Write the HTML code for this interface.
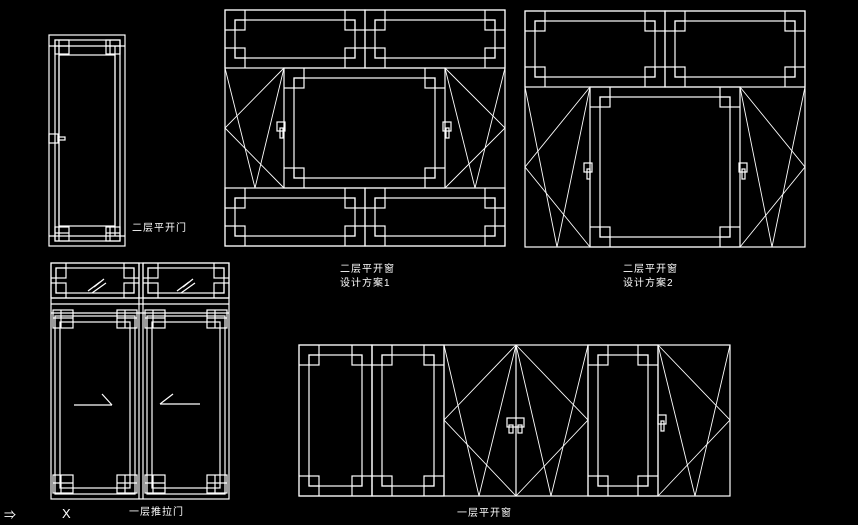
<!DOCTYPE html>
<html><head><meta charset="utf-8"><style>
html,body{margin:0;padding:0;background:#000;width:858px;height:525px;overflow:hidden}
svg{position:absolute;left:0;top:0}
.t{position:absolute;color:#fff;font:10px "Liberation Sans","Noto Sans CJK SC",sans-serif;line-height:14px;white-space:nowrap;letter-spacing:1px}
</style></head><body>
<svg id="s" width="858" height="525" viewBox="0 0 858 525" fill="none" stroke="#fff" stroke-width="1.2"></svg>
<div class="t" style="left:132px;top:222px">二层平开门</div>
<div class="t" style="left:340px;top:263px">二层平开窗</div>
<div class="t" style="left:340px;top:277px">设计方案1</div>
<div class="t" style="left:623px;top:263px">二层平开窗</div>
<div class="t" style="left:623px;top:277px">设计方案2</div>
<div class="t" style="left:129px;top:506px">一层推拉门</div>
<div class="t" style="left:457px;top:507px">一层平开窗</div>
<div class="t" style="left:4px;top:508px;font-size:12px">⇒</div>
<div class="t" style="left:62px;top:507px;font-size:13px">X</div>
<script>
var s=document.getElementById('s'),h='';
function L(a,b,c,d){h+='<line x1="'+a+'" y1="'+b+'" x2="'+c+'" y2="'+d+'"/>';}
function R(a,b,c,d){h+='<rect x="'+a+'" y="'+b+'" width="'+(c-a)+'" height="'+(d-b)+'"/>';}
function P(pts){h+='<polyline points="'+pts+'" stroke-width="0.9"/>';}
function panel(x1,y1,x2,y2,i,q){
 R(x1,y1,x2,y2);var a=x1+i,b=y1+i,c=x2-i,d=y2-i;R(a,b,c,d);
 R(a,b,a+q,b+q);R(c-q,b,c,b+q);R(a,d-q,a+q,d);R(c-q,d-q,c,d);
 L(a+q,y1,a+q,b);L(x1,b+q,a,b+q);L(c-q,y1,c-q,b);L(c,b+q,x2,b+q);
 L(a+q,d,a+q,y2);L(x1,d-q,a,d-q);L(c-q,d,c-q,y2);L(c,d-q,x2,d-q);
}
function handle(x,y){R(x,y,x+8,y+9);R(x+3,y+6,x+6,y+16);}
/* Plan 1 */
R(225,10,505,246);
panel(225,10,365,68,10,10);panel(365,10,505,68,10,10);
panel(225,188,365,246,10,10);panel(365,188,505,246,10,10);
panel(284,68,445,188,10,10);
P('225,68 255,188 284,68');P('284,68 225,128 284,188');
P('445,68 475,188 505,68');P('445,68 505,128 445,188');
handle(277,122);handle(443,122);
/* Plan 2 */
R(525,11,805,247);
panel(525,11,665,87,10,10);panel(665,11,805,87,10,10);
panel(590,87,740,247,10,10);
P('525,87 557,247 590,87');P('590,87 525,167 590,247');
P('740,87 772,247 805,87');P('740,87 805,167 740,247');
handle(584,163);handle(739,163);
/* Door top-left */
R(49,35,125,246);R(55,40,120,241);R(59,55,115,226);
L(49,46,125,46);L(49,236,125,236);L(59,46,59,236);L(115,46,115,236);
[[55,40],[106,40],[55,227],[106,227]].forEach(function(p){R(p[0],p[1],p[0]+14,p[1]+14);L(p[0]+4,p[1],p[0]+4,p[1]+14);L(p[0],p[1]+6,p[0]+14,p[1]+6);});
R(49,134,58,143);R(58,137,65,140);
/* Sliding door */
R(51,263,229,499);L(139,263,139,499);L(143,263,143,499);
L(51,298,229,298);L(51,304,229,304);L(51,313,229,313);
panel(51,263,139,298,5,10);panel(143,263,229,298,5,10);
function leaf(x1,x2){R(x1+4,316,x2-4,494);R(x1+9,322,x2-9,488);
 [[x1+2,310],[x2-22,310],[x1+2,475],[x2-22,475]].forEach(function(p){R(p[0],p[1],p[0]+20,p[1]+18);L(p[0]+8,p[1],p[0]+8,p[1]+18);L(p[0],p[1]+8,p[0]+20,p[1]+8);});}
leaf(51,139);leaf(143,229);
[[88,291,100,282],[92,293,106,283],[94,287,104,279]].forEach(function(l){L(l[0],l[1],l[2],l[3]);});
[[177,291,189,282],[181,293,195,283],[183,287,193,279]].forEach(function(l){L(l[0],l[1],l[2],l[3]);});
L(74,405,112,405);L(102,394,112,405);L(160,404,200,404);L(160,404,173,394);
/* Bottom window */
R(299,345,730,496);L(372,345,372,496);L(444,345,444,496);L(516,345,516,496);L(588,345,588,496);L(658,345,658,496);
panel(299,345,372,496,10,10);panel(372,345,444,496,10,10);panel(588,345,658,496,10,10);
P('516,345 444,420 516,496 588,420 516,345');P('444,345 479,496 516,345 551,496 588,345');
P('658,345 730,420 658,496');P('658,345 695,496 730,345');
R(507,418,524,427);R(509,425,513,433);R(518,425,522,433);
handle(658,415);
s.innerHTML=h;
</script>
</body></html>
